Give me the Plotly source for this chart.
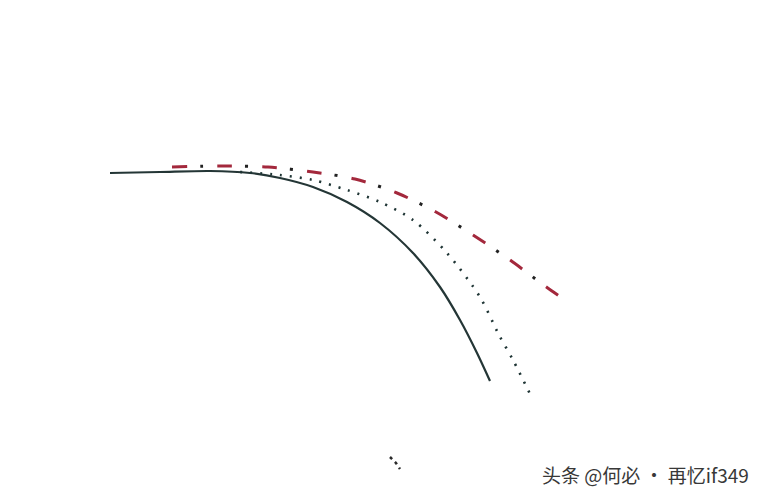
import plotly.graph_objects as go

# curves (pixel-like units, y grows downward)
solid_x = [110, 160, 210, 250, 280, 313, 347, 380, 413, 440, 460, 477, 490]
solid_y = [173, 172, 171, 173, 178, 187, 202, 223, 253, 287, 320, 353, 381]

dotted_x = [240, 280, 313, 347, 380, 413, 447, 480, 499, 513, 532]
dotted_y = [172, 175, 180, 190, 202, 220, 253, 297, 335, 360, 398]

dashdot_x = [172, 223, 268, 313, 355, 397, 436, 473, 510, 545, 565]
dashdot_y = [167, 166, 167, 172, 179, 193, 212, 235, 260, 286, 300]

stray_x = [390, 396, 400]
stray_y = [457, 463, 469]

watermark = "头条 @何必 · 再忆if349"

fig = go.Figure()

# solid line
fig.add_trace(go.Scatter(
    x=solid_x, y=solid_y, mode="lines", line_shape="spline",
    line=dict(color="#243636", width=2.2, smoothing=0.8), hoverinfo="skip"))

# dotted line
fig.add_trace(go.Scatter(
    x=dotted_x, y=dotted_y, mode="lines", line_shape="spline",
    line=dict(color="#1e3434", width=2.6, dash="2px,8px", smoothing=0.8),
    hoverinfo="skip"))

# dash-dot: red dashes plus black dots with the same period
fig.add_trace(go.Scatter(
    x=dashdot_x, y=dashdot_y, mode="lines", line_shape="spline",
    line=dict(color="#a3283c", width=3, dash="15px,30px", smoothing=0.8),
    hoverinfo="skip"))
fig.add_trace(go.Scatter(
    x=dashdot_x, y=dashdot_y, mode="lines", line_shape="spline",
    line=dict(color="#222222", width=3, dash="0px,28px,3px,14px", smoothing=0.8),
    hoverinfo="skip"))

# little stray mark near the bottom
fig.add_trace(go.Scatter(
    x=stray_x, y=stray_y, mode="lines",
    line=dict(color="#2a2a2a", width=2.5, dash="3px,4px"), hoverinfo="skip"))

fig.add_annotation(
    x=751, y=474, xref="x", yref="y", text=watermark, showarrow=False,
    xanchor="right", yanchor="middle",
    font=dict(family="Noto Sans CJK SC", size=19, color="#383838"))

fig.update_layout(
    width=760, height=500,
    margin=dict(l=0, r=0, t=0, b=0),
    paper_bgcolor="white", plot_bgcolor="white",
    showlegend=False,
    xaxis=dict(range=[0, 760], visible=False),
    yaxis=dict(range=[500, 0], visible=False),
)

fig.write_html("out.html", config={"displayModeBar": False},
               post_script="document.body.style.margin='0';")
